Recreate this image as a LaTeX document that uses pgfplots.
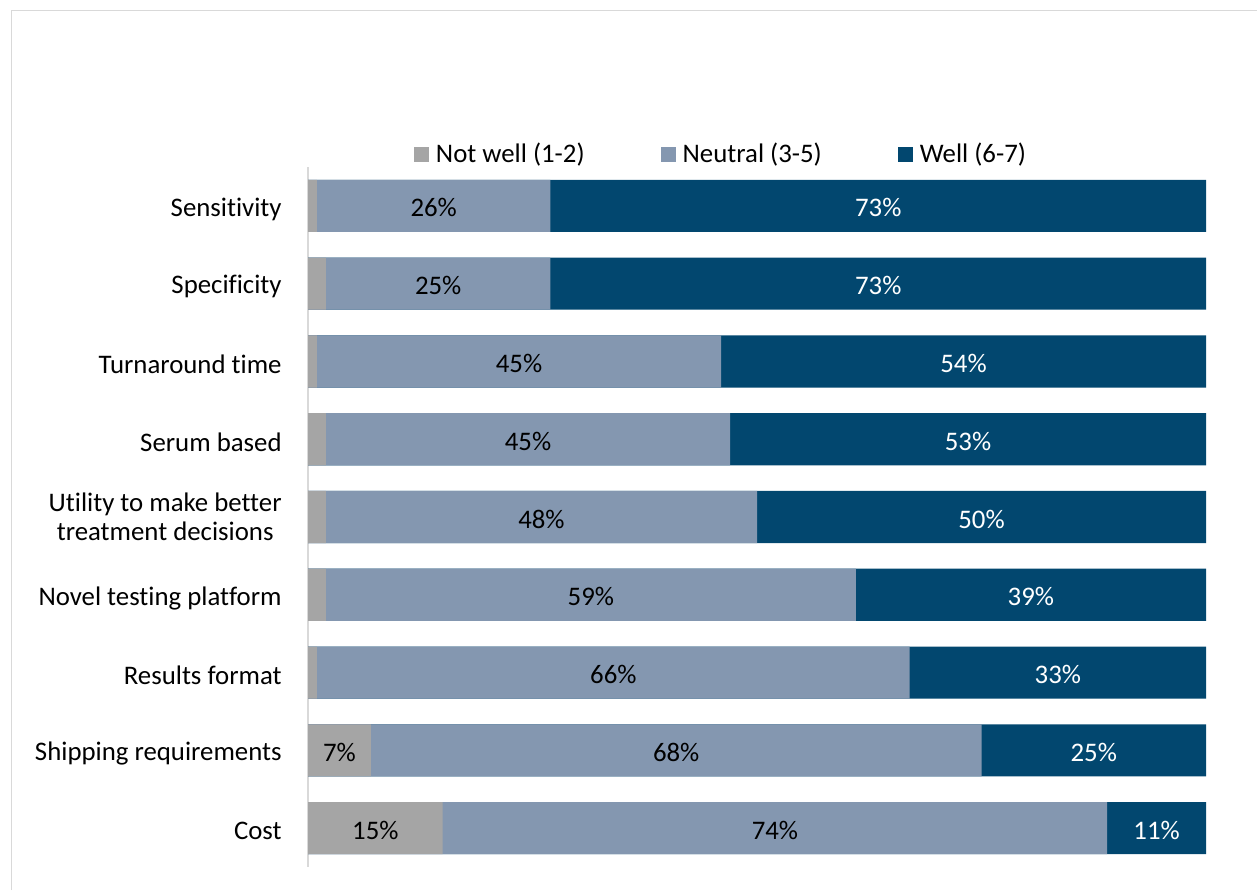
\documentclass[border=0pt]{standalone}
\usepackage{pgfplots}
\pgfplotsset{compat=1.18}
\usepackage{pgfplotstable}
\usepackage{fontspec}
\setmainfont{Carlito}[Ligatures=NoCommon]

\definecolor{nwcol}{HTML}{A5A5A5}
\definecolor{necol}{HTML}{8497B0}
\definecolor{wcol}{HTML}{02476F}
\definecolor{framecol}{HTML}{D9D9D9}

% share of answers: not well (1-2), neutral (3-5), well (6-7)
\pgfplotstableread{
idx nw ne w
0 1 26 73
1 2 25 73
2 1 45 54
3 2 45 53
4 2 48 50
5 2 59 39
6 1 66 33
7 7 68 25
8 15 74 11
}\ratings

\begin{document}
\begin{tikzpicture}[font=\fontsize{13.4}{14.8}\selectfont]
\useasboundingbox (0pt,0pt) rectangle (628.5pt,-445pt);
\draw[framecol, line width=0.75pt] (5.75pt,-445pt) -- (5.75pt,-5.25pt) -- (628.5pt,-5.25pt);
\begin{axis}[
    at={(154pt,-433.5pt)}, anchor=south west,
    scale only axis, width=449pt, height=350pt,
    xmin=0, xmax=100, ymin=-0.5, ymax=8.5, y dir=reverse,
    axis x line=none, axis y line=left,
    y axis line style={draw=framecol, line width=0.75pt, -},
    ytick={0,...,8}, major tick length=0pt,
    yticklabels={Sensitivity, Specificity, Turnaround time, Serum based\hspace{3pt},
        {\begin{tabular}{@{}c@{}}Utility to make better\\treatment decisions\end{tabular}\hspace{6pt}},
        Novel testing platform, Results format, Shipping requirements, Cost},
    yticklabel style={inner sep=0pt, xshift=-13pt, yshift=-1.6pt, text=black},
    mybar/.style={xbar, bar width=0.67, bar shift=0pt, draw=none, forget plot},
    mylab/.style={draw=none, mark=none, forget plot,
        nodes near coords={\pgfmathprintnumber{\pgfplotspointmeta}\%},
        every node near coord/.append style={anchor=center, inner sep=0pt, yshift=-1pt, text=#1}},
    /pgf/number format/assume math mode=true,
    legend columns=3,
    legend style={at={(0.1180,1.0179)}, anchor=west, draw=none, fill=none,
        inner sep=0pt, outer sep=0pt, nodes={inner sep=0pt, text=black},
        /tikz/every odd column/.append style={column sep=3.5pt},
        /tikz/every even column/.append style={column sep=38pt}},
    legend image code/.code={\fill[#1] (0pt,-3.75pt) rectangle (7.5pt,3.75pt);},
]
\addlegendimage{fill=nwcol, draw=none}
\addlegendentry{Not well (1-2)}
\addlegendimage{fill=necol, draw=none}
\addlegendentry{Neutral (3-5)}
\addlegendimage{fill=wcol, draw=none}
\addlegendentry{Well (6-7)}

\addplot[mybar, fill=wcol] table[x expr=\thisrow{nw}+\thisrow{ne}+\thisrow{w}, y=idx] {\ratings};
\addplot[mybar, fill=necol] table[x expr=\thisrow{nw}+\thisrow{ne}, y=idx] {\ratings};
\addplot[mybar, fill=nwcol] table[x=nw, y=idx] {\ratings};

\addplot[mylab=black, point meta=\thisrow{nw}, restrict x to domain=2:100]
    table[x expr=\thisrow{nw}/2, y=idx] {\ratings};
\addplot[mylab=black, point meta=\thisrow{ne}]
    table[x expr=\thisrow{nw}+\thisrow{ne}/2, y=idx] {\ratings};
\addplot[mylab=white, point meta=\thisrow{w}]
    table[x expr=\thisrow{nw}+\thisrow{ne}+\thisrow{w}/2, y=idx] {\ratings};
\end{axis}
\end{tikzpicture}
\end{document}
